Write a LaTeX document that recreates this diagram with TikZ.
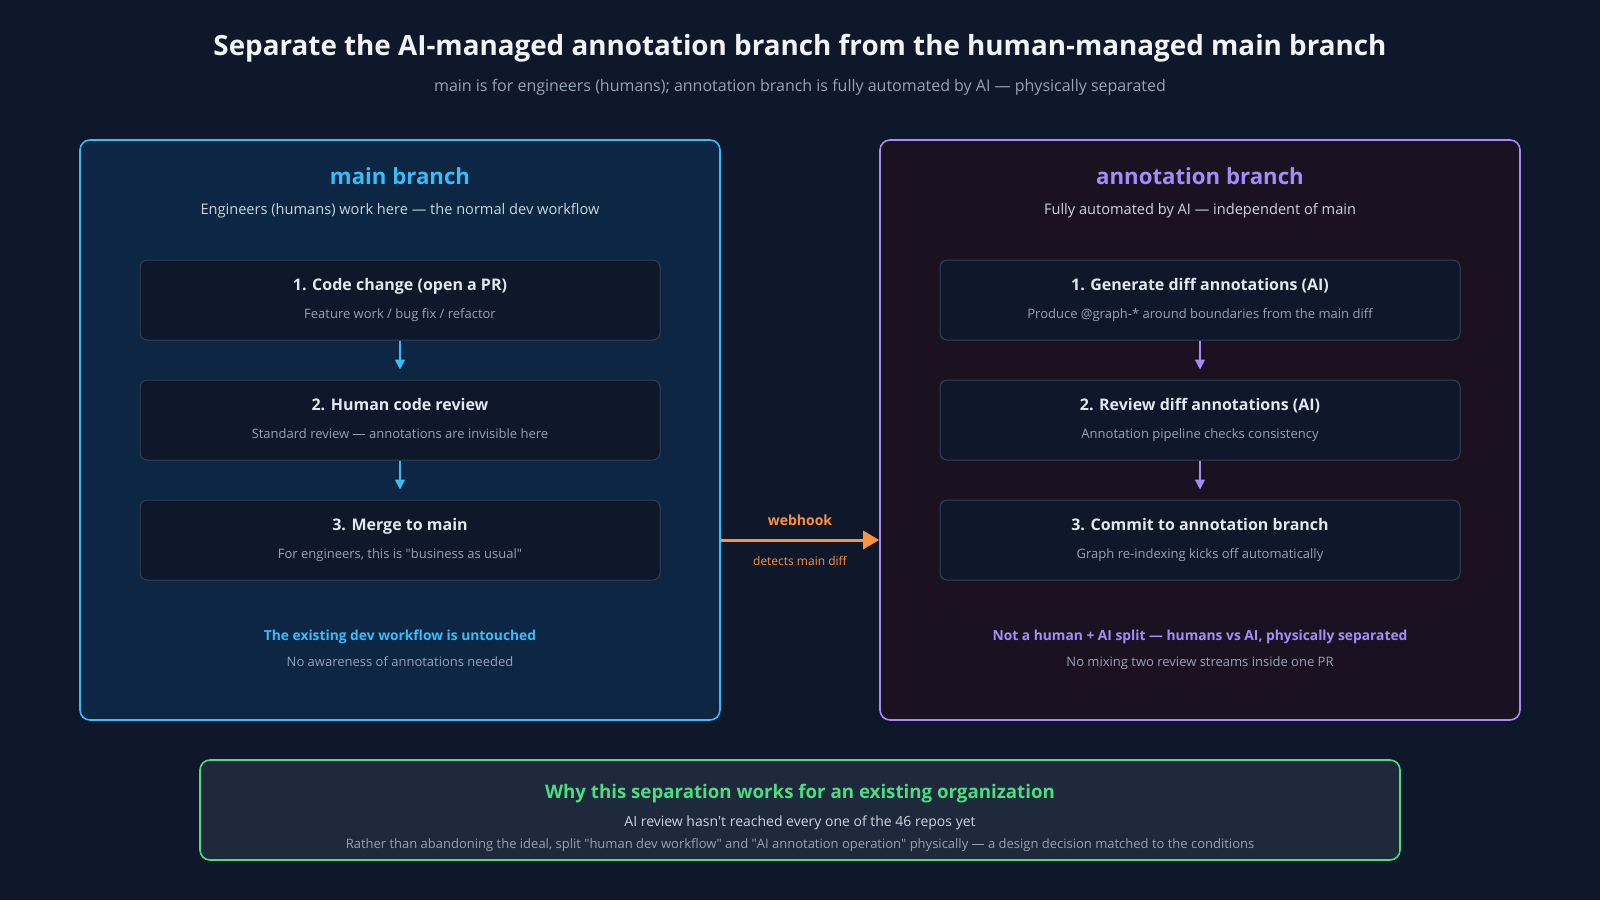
\documentclass[tikz,border=0pt]{standalone}
\usepackage{fontspec}
\setmainfont{Open Sans}
\usetikzlibrary{arrows.meta}
\definecolor{bg}{HTML}{0F172A}
\definecolor{mainfill}{HTML}{0C2643}
\definecolor{mainline}{HTML}{38BDF8}
\definecolor{annfill}{HTML}{1C1120}
\definecolor{annline}{HTML}{A78BFA}
\definecolor{boxfill}{HTML}{0F172A}
\definecolor{boxline}{HTML}{334155}
\definecolor{botfill}{HTML}{1E293B}
\definecolor{botline}{HTML}{4ADE80}
\definecolor{orng}{HTML}{FB923C}
\definecolor{titlec}{HTML}{F1F5F9}
\definecolor{subc}{HTML}{94A3B8}
\definecolor{lightc}{HTML}{CBD5E1}
\definecolor{boxt}{HTML}{E2E8F0}
\tikzset{
  panel/.style={draw, line width=1.6pt, rounded corners=10pt},
  stepbox/.style={draw=boxline, fill=boxfill, line width=1pt, rounded corners=7pt, minimum width=520pt, minimum height=80pt, inner sep=0pt},
  txt/.style={inner sep=0pt, anchor=base},
  flow/.style={line width=1.5pt, -{Triangle[length=10pt,width=10pt]}},
}
\newcommand{\fs}[1]{\fontsize{#1}{#1}\selectfont}
\newcommand{\dq}{\textquotedbl}
\begin{document}
\begin{tikzpicture}[x=1pt,y=-1pt]
\fill[bg] (0,0) rectangle (1600,900);
\useasboundingbox (0,0) rectangle (1600,900);
% title
\node[txt, text=titlec] (title) at (800,55) {\fs{27.8}\bfseries Separate the AI-managed annotation branch from the human-managed main branch};
\node[txt, text=subc] (subtitle) at (800,91) {\fs{16}main is for engineers (humans); annotation branch is fully automated by AI — physically separated};
% panels
\node[panel, draw=mainline, fill=mainfill, minimum width=640pt, minimum height=580pt, inner sep=0pt] (mainp) at (400,430) {};
\node[panel, draw=annline, fill=annfill, minimum width=640pt, minimum height=580pt, inner sep=0pt] (annp) at (1200,430) {};
% left
\node[txt, text=mainline] (mt) at (400,184) {\fs{22.2}\bfseries main branch};
\node[txt, text=lightc] (ms) at (400,214) {\fs{14.6}Engineers (humans) work here — the normal dev workflow};
\node[stepbox] (m1) at (400,300) {};
\node[stepbox] (m2) at (400,420) {};
\node[stepbox] (m3) at (400,540) {};
\node[txt, text=boxt] at (400,290) {\fs{16}\bfseries 1. Code change (open a PR)};
\node[txt, text=subc] at (400,318) {\fs{13}Feature work / bug fix / refactor};
\node[txt, text=boxt] at (400,410) {\fs{16}\bfseries 2. Human code review};
\node[txt, text=subc] at (400,438) {\fs{13}Standard review — annotations are invisible here};
\node[txt, text=boxt] at (400,530) {\fs{16}\bfseries 3. Merge to main};
\node[txt, text=subc] at (400,558) {\fs{13}For engineers, this is \dq business as usual\dq};
\draw[flow, draw=mainline, fill=mainline] (m1.south) -- ([yshift=10pt]m2.north);
\draw[flow, draw=mainline, fill=mainline] (m2.south) -- ([yshift=10pt]m3.north);
\node[txt, text=mainline] at (400,640) {\fs{13.8}\bfseries The existing dev workflow is untouched};
\node[txt, text=subc] at (400,666) {\fs{13}No awareness of annotations needed};
% right
\node[txt, text=annline] (at) at (1200,184) {\fs{22.2}\bfseries annotation branch};
\node[txt, text=lightc] (as) at (1200,214) {\fs{14.6}Fully automated by AI — independent of main};
\node[stepbox] (a1) at (1200,300) {};
\node[stepbox] (a2) at (1200,420) {};
\node[stepbox] (a3) at (1200,540) {};
\node[txt, text=boxt] at (1200,290) {\fs{16}\bfseries 1. Generate diff annotations (AI)};
\node[txt, text=subc] at (1200,318) {\fs{13}Produce @graph-* around boundaries from the main diff};
\node[txt, text=boxt] at (1200,410) {\fs{16}\bfseries 2. Review diff annotations (AI)};
\node[txt, text=subc] at (1200,438) {\fs{13}Annotation pipeline checks consistency};
\node[txt, text=boxt] at (1200,530) {\fs{16}\bfseries 3. Commit to annotation branch};
\node[txt, text=subc] at (1200,558) {\fs{13}Graph re-indexing kicks off automatically};
\draw[flow, draw=annline, fill=annline] (a1.south) -- ([yshift=10pt]a2.north);
\draw[flow, draw=annline, fill=annline] (a2.south) -- ([yshift=10pt]a3.north);
\node[txt, text=annline] at (1200,640) {\fs{13.8}\bfseries Not a human + AI split — humans vs AI, physically separated};
\node[txt, text=subc] at (1200,666) {\fs{13}No mixing two review streams inside one PR};
% webhook
\draw[line width=3pt, draw=orng, -{Triangle[length=16pt,width=18pt]}] (mainp.east |- 0,540) -- (annp.west |- 0,540);
\node[txt, text=orng] at (800,525) {\fs{14}\bfseries webhook};
\node[txt, text=orng] at (800,565) {\fs{12}detects main diff};
% bottom
\node[panel, draw=botline, fill=botfill, minimum width=1200pt, minimum height=100pt, inner sep=0pt] (bot) at (800,810) {};
\node[txt, text=botline] at (800,798) {\fs{18.7}\bfseries Why this separation works for an existing organization};
\node[txt, text=lightc] at (800,826) {\fs{14}AI review hasn\textquotesingle t reached every one of the 46 repos yet};
\node[txt, text=subc] at (800,848) {\fs{13}Rather than abandoning the ideal, split \dq human dev workflow\dq{} and \dq AI annotation operation\dq{} physically — a design decision matched to the conditions};
\end{tikzpicture}
\end{document}
